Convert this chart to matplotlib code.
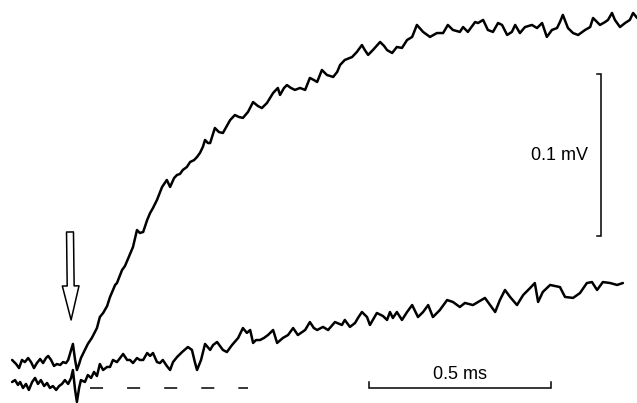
import numpy as np
import matplotlib
matplotlib.use("Agg")
import matplotlib.pyplot as plt

# --- data: time in ms (stimulus at 0), voltage in uV ---
t_fast = [-0.159, -0.148, -0.140, -0.132, -0.124, -0.115, -0.107, -0.099, -0.091, -0.082,
          -0.074, -0.066, -0.060, -0.052, -0.044, -0.036, -0.027, -0.019, -0.011, -0.005,
          0.003, 0.008, 0.014, 0.019, 0.025, 0.030, 0.038, 0.049, 0.060, 0.074,
          0.082, 0.091, 0.102, 0.110, 0.118, 0.124, 0.129, 0.143, 0.151, 0.165,
          0.173, 0.184, 0.192, 0.201, 0.212, 0.220, 0.228, 0.239, 0.253, 0.266,
          0.275, 0.286, 0.294, 0.302, 0.310, 0.321, 0.330, 0.341, 0.349, 0.357,
          0.365, 0.371, 0.379, 0.385, 0.398, 0.409, 0.420, 0.440, 0.453, 0.464,
          0.475, 0.489, 0.503, 0.516, 0.527, 0.541, 0.558, 0.571, 0.577, 0.588,
          0.596, 0.607, 0.618, 0.632, 0.646, 0.659, 0.670, 0.679, 0.692, 0.706,
          0.723, 0.734, 0.742, 0.755, 0.775, 0.788, 0.802, 0.810, 0.819, 0.832,
          0.852, 0.863, 0.871, 0.885, 0.898, 0.912, 0.926, 0.940, 0.953, 0.970,
          0.989, 1.008, 1.025, 1.038, 1.052, 1.071, 1.080, 1.093, 1.113, 1.121,
          1.135, 1.148, 1.162, 1.176, 1.187, 1.201, 1.214, 1.223, 1.236, 1.250,
          1.269, 1.283, 1.297, 1.310, 1.324, 1.338, 1.346, 1.354, 1.368, 1.382,
          1.396, 1.415, 1.429, 1.437, 1.448, 1.456, 1.470, 1.478, 1.489, 1.497,
          1.511, 1.525, 1.538, 1.547, 1.558]
uv_fast = [17.3, 14.8, 12.3, 17.3, 16.0, 18.5, 16.0, 12.3, 15.4, 17.9,
           15.4, 18.5, 19.8, 17.3, 13.6, 14.8, 14.2, 16.0, 15.4, 17.3,
           23.5, 27.2, 17.3, 11.1, 14.8, 18.5, 22.2, 27.2, 30.9, 37.0,
           43.8, 46.3, 50.6, 56.2, 60.5, 63.6, 64.8, 72.8, 75.3, 82.7,
           87.0, 97.5, 95.7, 96.3, 103.7, 108.0, 111.1, 116.1, 124.1, 128.4,
           124.1, 129.6, 131.5, 132.1, 134.6, 136.4, 139.5, 140.7, 142.6, 145.1,
           148.8, 153.1, 151.2, 151.2, 160.5, 158.0, 157.4, 165.4, 168.5, 167.3,
           166.7, 170.4, 176.5, 174.1, 172.8, 175.9, 182.1, 185.2, 180.9, 185.2,
           187.0, 185.2, 184.0, 185.2, 184.0, 191.4, 190.1, 188.9, 196.3, 193.2,
           192.0, 195.1, 199.4, 202.5, 204.3, 207.4, 211.7, 208.6, 205.6, 208.6,
           213.6, 211.1, 208.6, 206.8, 210.5, 209.9, 214.8, 216.7, 224.1, 219.8,
           216.7, 219.1, 219.1, 224.1, 221.0, 219.8, 222.8, 219.8, 225.9, 225.3,
           227.2, 221.0, 219.8, 225.3, 224.1, 217.9, 219.8, 224.1, 219.1, 222.8,
           224.1, 222.2, 225.3, 216.7, 221.0, 222.2, 225.9, 230.3, 222.2, 219.1,
           217.9, 221.0, 222.8, 228.4, 225.9, 224.1, 225.9, 227.2, 231.5, 227.2,
           222.8, 225.3, 227.2, 231.5, 228.4]

t_slow = [-0.159, -0.151, -0.143, -0.137, -0.129, -0.121, -0.113, -0.104, -0.096, -0.088,
          -0.080, -0.071, -0.063, -0.055, -0.047, -0.038, -0.030, -0.022, -0.014, -0.005,
          0.003, 0.008, 0.014, 0.019, 0.025, 0.030, 0.041, 0.049, 0.058, 0.066,
          0.074, 0.082, 0.091, 0.102, 0.110, 0.118, 0.129, 0.146, 0.157, 0.165,
          0.173, 0.184, 0.192, 0.201, 0.212, 0.220, 0.228, 0.239, 0.247, 0.255,
          0.266, 0.275, 0.283, 0.294, 0.308, 0.324, 0.335, 0.343, 0.349, 0.360,
          0.371, 0.385, 0.393, 0.404, 0.412, 0.420, 0.431, 0.445, 0.462, 0.475,
          0.486, 0.495, 0.503, 0.511, 0.522, 0.533, 0.544, 0.558, 0.569, 0.585,
          0.599, 0.613, 0.626, 0.646, 0.659, 0.670, 0.679, 0.695, 0.709, 0.728,
          0.747, 0.755, 0.769, 0.783, 0.791, 0.802, 0.816, 0.824, 0.835, 0.843,
          0.860, 0.871, 0.879, 0.887, 0.898, 0.912, 0.926, 0.940, 0.956, 0.970,
          0.984, 0.997, 1.016, 1.036, 1.052, 1.071, 1.085, 1.107, 1.121, 1.140,
          1.154, 1.168, 1.181, 1.195, 1.209, 1.228, 1.245, 1.264, 1.277, 1.286,
          1.299, 1.319, 1.332, 1.346, 1.360, 1.382, 1.401, 1.420, 1.434, 1.448,
          1.464, 1.484, 1.503, 1.519]
uv_slow = [3.7, 4.9, 1.9, 3.7, 0.0, 2.5, -1.2, 3.7, 6.2, 2.5,
           4.9, 1.2, 3.1, 0.0, 1.2, -1.2, 1.2, 2.5, 4.9, 2.5,
           6.2, 11.1, -1.2, -8.6, 0.0, 4.9, 3.7, 8.0, 6.2, 9.9,
           7.4, 14.8, 11.1, 13.0, 13.0, 17.3, 16.0, 21.0, 17.3, 17.3,
           15.4, 18.5, 17.3, 17.3, 21.6, 19.8, 21.6, 16.0, 15.4, 17.3,
           13.6, 11.1, 16.0, 19.1, 22.2, 25.3, 23.5, 16.0, 11.1, 17.3,
           27.2, 23.5, 26.5, 28.4, 25.9, 23.5, 22.2, 26.5, 30.9, 37.0,
           34.0, 35.8, 27.8, 29.6, 29.6, 30.9, 32.7, 35.8, 27.8, 30.9,
           32.7, 37.0, 32.7, 35.8, 40.7, 37.0, 35.8, 37.7, 35.8, 40.7,
           38.9, 42.0, 37.7, 40.1, 43.2, 46.9, 43.8, 38.9, 43.2, 46.3,
           44.4, 42.0, 46.9, 43.2, 46.9, 42.0, 46.9, 51.2, 43.8, 46.9,
           51.2, 43.8, 48.1, 54.3, 53.1, 50.0, 52.5, 51.2, 53.1, 55.6,
           51.2, 46.9, 54.3, 60.5, 56.2, 51.2, 57.4, 61.7, 64.8, 53.1,
           59.3, 63.6, 63.0, 62.3, 56.2, 55.6, 58.6, 64.8, 65.4, 60.5,
           65.4, 64.8, 63.6, 64.8]

# calibration bars and labels
time_bar_ms = 0.5
volt_bar_mv = 0.1
time_bar_label = "0.5 ms"
volt_bar_label = "0.1 mV"


def main():
    fig = plt.figure(figsize=(6.37, 4.03), dpi=100)
    ax = fig.add_axes([0, 0, 1, 1])
    ax.set_xlim(-0.1923, 1.5577)
    ax.set_ylim(-0.00926, 0.2395)
    ax.axis("off")

    tr_kw = dict(color="black", lw=1.8, solid_joinstyle="round", solid_capstyle="round")
    ax.plot(t_slow, np.array(uv_slow) / 1000.0, **tr_kw)
    ax.plot(t_fast, np.array(uv_fast) / 1000.0, **tr_kw)

    # baseline (dashed)
    lw_d = 1.1
    ax.plot([0.055, 0.489], [0.0, 0.0], color="black", lw=lw_d,
            linestyle=(0, (9.4 / lw_d, 17.3 / lw_d)))

    # stimulus arrow (open)
    ax.annotate("", xy=(0.003, 0.042), xytext=(0.0, 0.0963),
                arrowprops=dict(arrowstyle="simple,head_length=2.45,head_width=1.2,tail_width=0.5",
                                mutation_scale=10, fc="white", ec="black", lw=1.1,
                                shrinkA=0, shrinkB=0))

    # time scale bar
    bar_kw = dict(color="black", lw=1.1, solid_joinstyle="miter")
    t0 = 0.821
    tick = 0.0035
    ax.plot([t0, t0, t0 + time_bar_ms, t0 + time_bar_ms],
            [tick, 0.0, 0.0, tick], **bar_kw)
    ax.text(t0 + time_bar_ms / 2, 0.0055, time_bar_label, ha="center", va="baseline",
            fontsize=13, family="Liberation Sans")

    # voltage scale bar
    tv = 1.459
    v0 = 0.0938
    dt = 0.011
    ax.plot([tv - dt, tv, tv, tv - dt],
            [v0, v0, v0 + volt_bar_mv, v0 + volt_bar_mv], **bar_kw)
    ax.text(1.422, v0 + volt_bar_mv / 2, volt_bar_label, ha="right", va="center",
            fontsize=13, family="Liberation Sans")

    fig.savefig("out.png", dpi=100)


if __name__ == "__main__":
    main()
